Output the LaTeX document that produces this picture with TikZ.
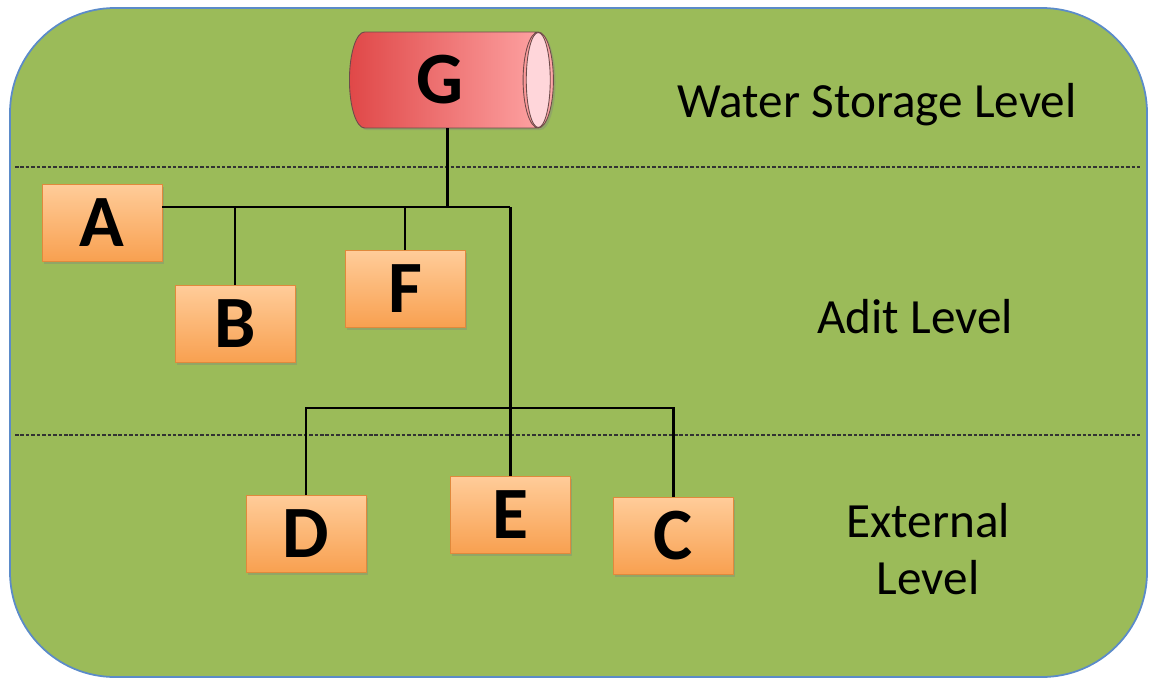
\documentclass[tikz,border=0pt]{standalone}
\usepackage{fontspec}
\setmainfont{Carlito}
\usetikzlibrary{positioning,shapes.geometric,shadows}

\definecolor{fieldgreen}{HTML}{9BBB59}
\definecolor{fieldedge}{HTML}{5B8BC9}
\definecolor{boxtop}{HTML}{FFCC99}
\definecolor{boxbot}{HTML}{F8A050}
\definecolor{boxedge}{HTML}{E0893C}
\definecolor{tankleft}{HTML}{E04848}
\definecolor{tankright}{HTML}{FFA8A8}
\definecolor{tankend}{HTML}{FFD6DA}
\definecolor{tankedge}{HTML}{6E4A4A}

\begin{document}
\begin{tikzpicture}[
  x=0.02cm, y=-0.02cm,
  levellabel/.style={font=\fontsize{28}{32}\selectfont, anchor=base},
  valve/.style={rectangle, draw=boxedge, line width=0.5pt,
    top color=boxtop, bottom color=boxbot,
    minimum width=2.4cm, minimum height=1.54cm,
    font=\fontsize{42}{48}\selectfont\bfseries,
    drop shadow={shadow xshift=1.2pt, shadow yshift=-1.2pt, opacity=0.35}},
  tank/.style={cylinder, shape border rotate=0, aspect=0.5,
    draw=tankedge, line width=0.5pt,
    left color=tankleft, right color=tankright,
    minimum width=1.92cm, minimum height=4.08cm,
    font=\fontsize{42}{48}\selectfont\bfseries,
    drop shadow={shadow xshift=1.2pt, shadow yshift=-1.2pt, opacity=0.35}},
  pipe/.style={line width=1.7pt},
  divider/.style={line width=0.75pt, black!80, dash pattern=on 2pt off 1.1pt}
]
\useasboundingbox (0,0) rectangle (1152,679);

% field
\draw[fieldedge, line width=1pt, fill=fieldgreen, rounded corners=2.1cm] (10,8) rectangle (1147,677);
\draw[divider] (15,167) -- (1140,167);
\draw[divider] (15,435) -- (1140,435);

% level names
\node[levellabel] (storage) at (877,117) {Water Storage Level};
\node[levellabel] (adit) at (915,333) {Adit Level};
\node[levellabel, align=center, anchor=center] (external) at (928,549) {External\\Level};

% nodes
\node[tank] (G) at (440,80) {G};
\draw[tankedge, line width=0.5pt, fill=tankend] (G.before top |- G.center) ellipse [x radius=0.24cm, y radius=0.95cm];

\node[valve] (A) at (102,223) {A};
\node[valve] (B) at (235,324) {B};
\node[valve] (F) at (405,289) {F};
\node[valve] (D) at (306,534) {D};
\node[valve] (E) at (510,515) {E};
\node[valve] (C) at (673,536) {C};

\coordinate (j1) at (510,207);
\coordinate (j2) at (510,408);

% pipes
\draw[pipe] (A.east |- j1) -- (j1);
\draw[pipe] ([xshift=0.14cm]G.south) -- ([xshift=0.14cm]G.south |- j1);
\draw[pipe] (B.north) -- (B.north |- j1);
\draw[pipe] (F.north) -- (F.north |- j1);
\draw[pipe] (j1) -- (E.north);
\draw[pipe] (D.north) |- (j2) -| (C.north);
\end{tikzpicture}
\end{document}
